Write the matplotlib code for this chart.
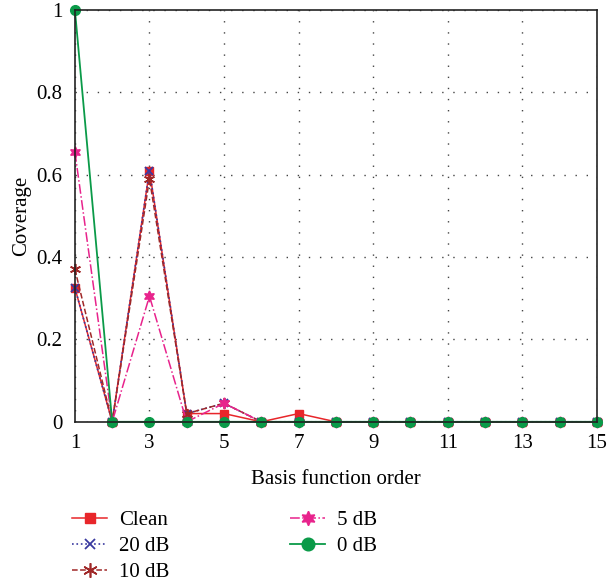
import numpy as np
import matplotlib
matplotlib.use('Agg')
import matplotlib.pyplot as plt

plt.rcParams['font.family'] = ['Liberation Serif', 'DejaVu Serif']

order = list(range(1, 16))
clean = [0.325, 0, 0.61, 0.02, 0.02, 0, 0.02, 0, 0, 0, 0, 0, 0, 0, 0]
db20 = [0.325, 0, 0.61, 0.02, 0.045, 0, 0, 0, 0, 0, 0, 0, 0, 0, 0]
db10 = [0.37, 0, 0.59, 0.02, 0.045, 0, 0, 0, 0, 0, 0, 0, 0, 0, 0]
db5 = [0.655, 0, 0.305, 0, 0.045, 0, 0, 0, 0, 0, 0, 0, 0, 0, 0]
db0 = [1.0, 0, 0, 0, 0, 0, 0, 0, 0, 0, 0, 0, 0, 0, 0]
labels = ['Clean', '20 dB', '10 dB', '5 dB', '0 dB']

fig = plt.figure(figsize=(6.09, 5.81), dpi=100)
ax = fig.add_axes([0.123, 0.274, 0.857, 0.709])

ax.plot(order, clean, color='#e8262a', ls='-', lw=1.1, marker='s', ms=6, label=labels[0])
ax.plot(order, db20, color='#3a3aa0', ls=':', lw=1.2, marker='x', ms=6, mew=1.3, label=labels[1])
ax.plot(order, db10, color='#a02828', ls='--', lw=1.1, marker=(6, 2, 0), ms=8, mew=1.2, label=labels[2])
ax.plot(order, db5, color='#e8238c', ls='-.', lw=1.1, marker=(6, 1, 0), ms=8, label=labels[3])
ax.plot(order, db0, color='#0a9a48', ls='-', lw=1.3, marker='o', ms=7, label=labels[4])

ax.set_xlim(1, 15)
ax.set_ylim(0, 1)
ax.set_xticks(range(1, 16, 2))
ax.set_yticks([0, 0.2, 0.4, 0.6, 0.8, 1])
ax.set_yticklabels(['0', '0.2', '0.4', '0.6', '0.8', '1'])
ax.grid(True, ls=(0, (1, 7)), color='#444444', lw=1.0)
ax.tick_params(length=0, labelsize=15, pad=9)
for s in ax.spines.values():
    s.set_linewidth(1.2)
    s.set_color('#222222')
for l in ax.lines:
    l.set_clip_on(False)

ax.set_xlabel('Basis function order', fontsize=15, labelpad=12)
ax.set_ylabel('Coverage', fontsize=15, labelpad=4)

fig.legend(loc='upper left', bbox_to_anchor=(0.118, 0.121), ncol=2, frameon=False,
           fontsize=15, handlelength=1.7, handletextpad=0.55, columnspacing=5.8,
           labelspacing=0.3, borderpad=0, borderaxespad=0, markerscale=1.3)

fig.savefig('out.png', dpi=100)
